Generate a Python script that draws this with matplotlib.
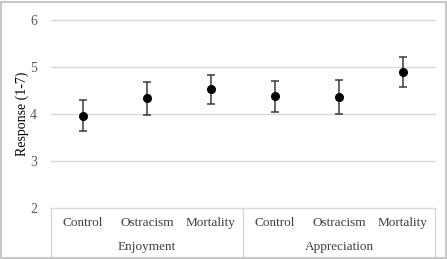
import numpy as np
import matplotlib.pyplot as plt
from matplotlib.lines import Line2D

# data
conditions = ["Control", "Ostracism", "Mortality", "Control", "Ostracism", "Mortality"]
groups = ["Enjoyment", "Appreciation"]
means = [3.96, 4.33, 4.53, 4.38, 4.37, 4.89]
errors = [0.33, 0.35, 0.31, 0.33, 0.36, 0.32]
yticks = [2, 3, 4, 5, 6]

plt.rcParams['font.family'] = ['Liberation Serif', 'DejaVu Serif']

W, H = 447, 259
fig = plt.figure(figsize=(W / 100, H / 100), dpi=100)

# plot area in pixels
left, right, top, bottom = 51, 435, 20, 208
ax = fig.add_axes([left / W, 1 - bottom / H, (right - left) / W, (bottom - top) / H])

x = np.arange(len(conditions))
ax.errorbar(x, means, yerr=errors, fmt='o', color='black', ms=5.5,
            ecolor='#3a3a3a', elinewidth=1.1, capsize=3, capthick=1.1, zorder=3)

ax.set_xlim(-0.5, len(conditions) - 0.5)
ax.set_ylim(2, 6)
ax.set_yticks(yticks)
ax.set_xticks([])
for v in yticks[1:]:
    ax.axhline(v, color='#d9d9d9', lw=1, clip_on=False, zorder=1)
for s in ax.spines.values():
    s.set_visible(False)
ax.tick_params(axis='y', length=0, pad=10, labelsize=10, labelcolor='#595959')
ax.set_ylabel("Response (1-7)", fontsize=10, color='black')
ax.yaxis.set_label_coords((29 - left) / (right - left), 0.5)

# category box below the axis
trans = ax.get_xaxis_transform()
depth = (257 - bottom) / (bottom - top)
box_col = '#d9d9d9'
ax.add_line(Line2D([-0.5, len(conditions) - 0.5], [0, 0], transform=trans,
                   color=box_col, lw=1, clip_on=False))
for xv in [-0.5, 2.5, 5.5]:
    ax.add_line(Line2D([xv, xv], [0, -depth], transform=trans,
                       color=box_col, lw=1, clip_on=False))

row1 = -(223 - bottom) / (bottom - top)
row2 = -(247 - bottom) / (bottom - top)
for xi, c in zip(x, conditions):
    ax.text(xi, row1, c, transform=trans, ha='center', va='center',
            fontsize=9.5, color='#404040')
for gi, g in enumerate(groups):
    ax.text(1 + 3 * gi, row2, g, transform=trans, ha='center', va='center',
            fontsize=9.5, color='#404040')

# light border around the whole chart
fig.add_artist(plt.Rectangle((0.002, 0.004), 0.995, 0.99, transform=fig.transFigure,
                             fill=False, edgecolor='#c8c8c8', lw=1.5))

fig.savefig("out.png", dpi=100)
